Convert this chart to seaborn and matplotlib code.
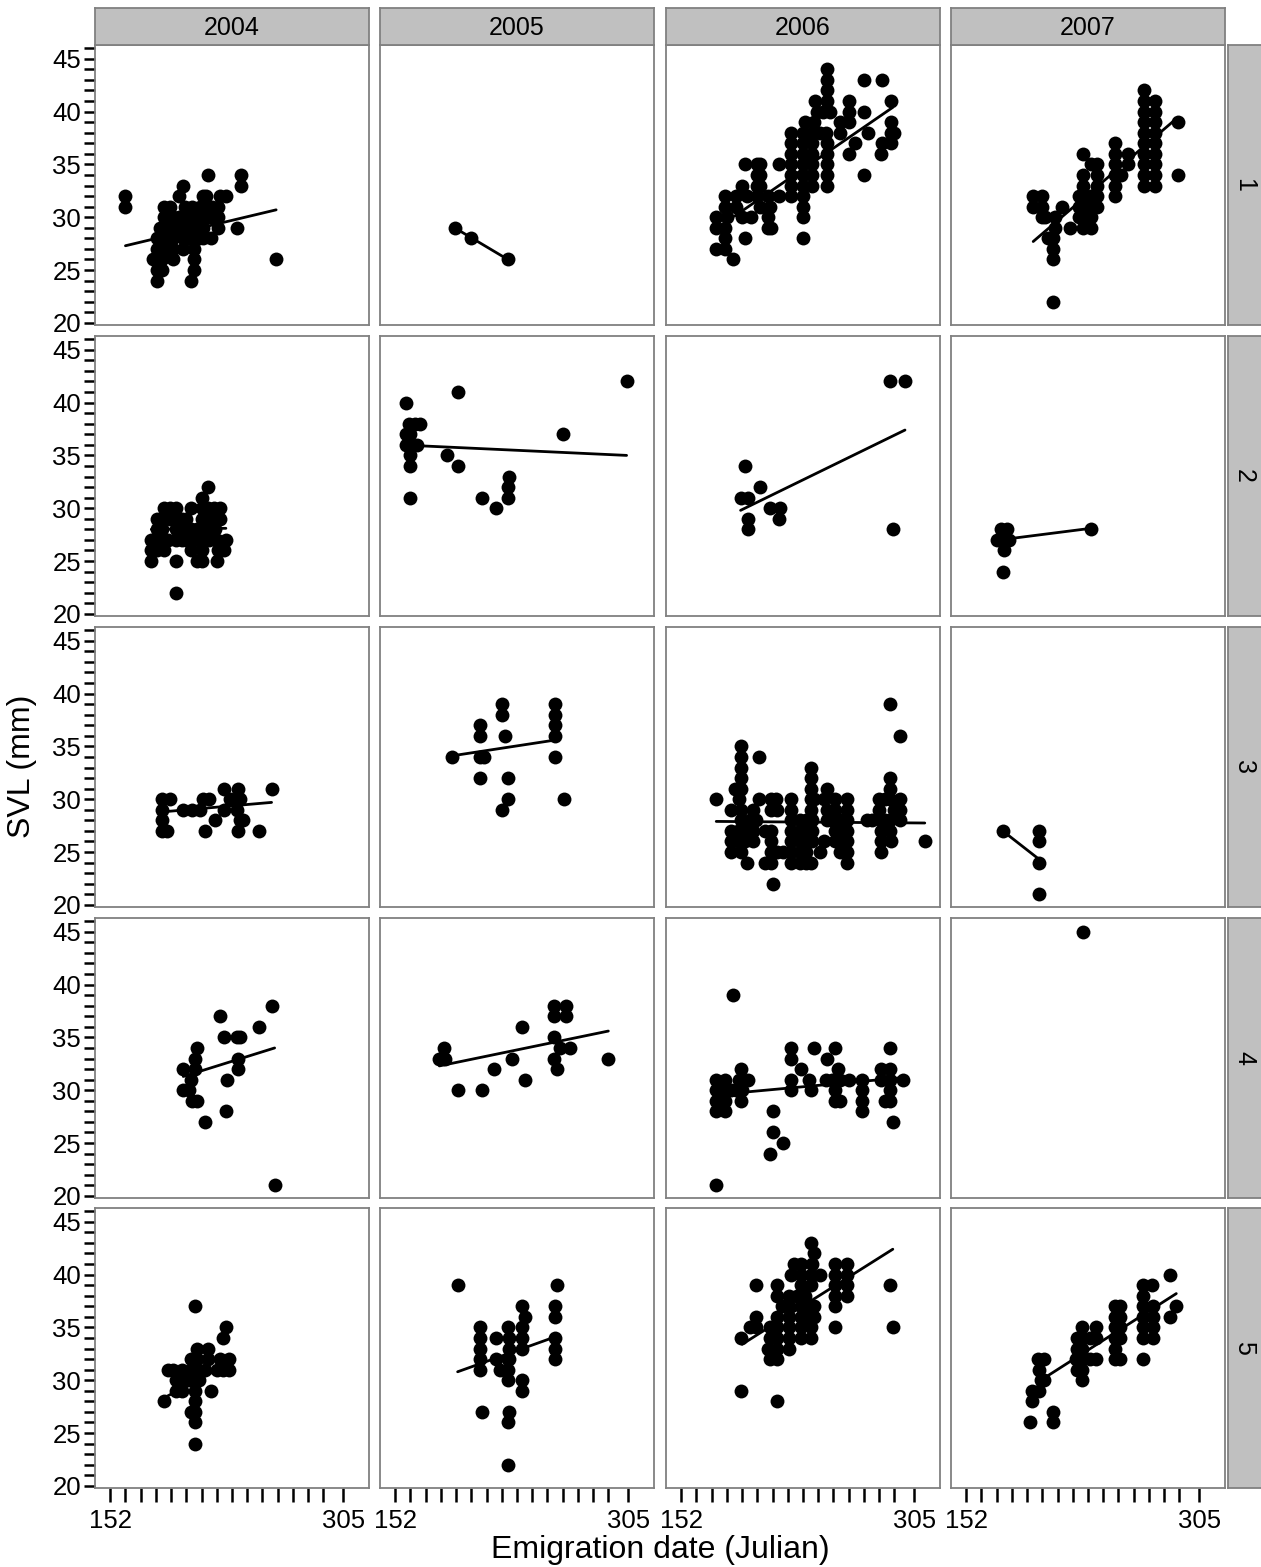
import numpy as np
import pandas as pd
import matplotlib
matplotlib.use("Agg")
import matplotlib.pyplot as plt
import seaborn as sns

sns.set_style("white")
plt.rcParams["font.family"] = ["Liberation Sans", "DejaVu Sans"]
plt.rcParams["text.color"] = "black"
plt.rcParams["xtick.color"] = "black"
plt.rcParams["ytick.color"] = "black"
plt.rcParams["xtick.labelcolor"] = "black"
plt.rcParams["ytick.labelcolor"] = "black"

# ---------------- data: SVL value -> list of emigration dates (Julian) ----------------
years = [2004, 2005, 2006, 2007]
groups = [1, 2, 3, 4, 5]

p2004_1 = {34: [216, 238], 33: [200, 238], 32: [162, 197, 213, 215, 224, 228],
           31: [162, 187, 191, 201, 206, 211, 215, 219, 223],
           30: [187, 190, 193, 197, 200, 203, 206, 210, 213, 216, 219, 223],
           29: [185, 189, 193, 197, 200, 203, 206, 210, 213, 223, 235],
           28: [183, 187, 193, 200, 203, 206, 210, 213, 218],
           27: [183, 187, 190, 193, 200, 207], 26: [180, 186, 193, 207, 261],
           25: [183, 186, 207], 24: [183, 205]}
p2005_1 = {29: [191], 28: [202], 26: [226]}
p2006_1 = {44: [248], 43: [248, 272, 284], 42: [248], 41: [240, 248, 262, 290],
           40: [241, 245, 250, 262, 272], 39: [233, 239, 256, 262, 290],
           38: [224, 232, 238, 243, 247, 256, 275, 290, 292],
           37: [224, 232, 238, 248, 266, 284, 290], 36: [224, 232, 238, 248, 262, 283],
           35: [194, 202, 204, 216, 224, 232, 238, 248], 34: [202, 204, 224, 232, 238, 248, 272],
           33: [192, 202, 204, 224, 232, 238, 248], 32: [181, 188, 195, 202, 209, 216, 224, 232],
           31: [181, 188, 204, 210, 232], 30: [175, 182, 192, 198, 209, 232],
           29: [175, 181, 209, 211], 28: [181, 194, 232], 27: [175, 181], 26: [186]}
p2007_1 = {42: [269], 41: [269, 276], 40: [269, 276], 39: [269, 276, 291], 38: [269, 276],
           37: [250, 269, 276], 36: [229, 250, 258, 269, 276], 35: [234, 238, 250, 258, 269, 276],
           34: [229, 238, 250, 254, 269, 276, 291], 33: [229, 238, 250, 269, 276],
           32: [196, 202, 226, 229, 234, 238, 250], 31: [196, 202, 215, 226, 229, 234, 238],
           30: [202, 204, 210, 226, 229, 234], 29: [210, 220, 229, 234], 28: [206, 209],
           27: [209], 26: [209], 22: [209]}
p2004_2 = {32: [216], 31: [212], 30: [187, 191, 195, 205, 212, 216, 220, 224],
           29: [183, 186, 191, 196, 199, 202, 212, 216, 220, 224],
           28: [183, 186, 195, 202, 205, 209, 212, 216, 221],
           27: [179, 183, 186, 190, 195, 199, 202, 206, 210, 214, 217, 222, 228],
           26: [179, 183, 187, 205, 212, 223, 227], 25: [179, 195, 209, 212, 222], 22: [195]}
p2005_2 = {42: [304], 41: [193], 40: [159], 38: [161, 165, 168], 37: [159, 162, 262],
           36: [159, 162, 166], 35: [162, 186], 34: [162, 193], 33: [227], 32: [226],
           31: [162, 209, 226], 30: [218]}
p2006_2 = {42: [289, 299], 34: [194], 32: [204], 31: [191, 196], 30: [210, 217],
           29: [196, 216], 28: [196, 291]}
p2007_2 = {28: [175, 179, 234], 27: [172, 176, 180], 26: [177], 24: [176]}
p2004_3 = {31: [227, 236, 258], 30: [186, 191, 213, 217, 231, 237],
           29: [186, 200, 206, 211, 227, 235], 28: [186, 221, 237, 239],
           27: [186, 189, 214, 236, 250]}
p2005_3 = {39: [222, 257], 38: [222, 257], 37: [208, 257], 36: [208, 224, 257],
           34: [189, 208, 210, 257], 32: [208, 226], 30: [226, 263], 29: [222]}
p2006_3 = {39: [289], 36: [296], 35: [191], 34: [191, 203], 33: [191, 237],
           32: [191, 237, 289], 31: [187, 191, 237, 248, 289],
           30: [175, 190, 203, 211, 214, 224, 237, 239, 246, 253, 261, 282, 286, 289, 296],
           29: [185, 191, 199, 211, 215, 224, 237, 248, 253, 261, 282, 292, 296],
           28: [191, 197, 201, 224, 230, 234, 238, 248, 251, 256, 261, 274, 277, 283, 286, 289, 296],
           27: [185, 189, 194, 199, 207, 211, 224, 230, 234, 238, 253, 257, 261, 283, 289],
           26: [185, 189, 194, 199, 211, 224, 230, 234, 238, 246, 253, 257, 261, 283, 290, 312],
           25: [185, 191, 211, 215, 219, 224, 230, 234, 243, 256, 261, 283],
           24: [195, 207, 211, 224, 230, 234, 237, 261], 22: [212]}
p2007_3 = {27: [176, 200], 26: [200], 24: [200], 21: [200]}
p2004_4 = {38: [258], 37: [224], 36: [250], 35: [227, 235, 237], 34: [209], 33: [208, 236],
           32: [200, 208, 236], 31: [205, 229], 30: [200, 204], 29: [206, 209], 28: [228],
           27: [214], 21: [260]}
p2005_4 = {38: [256, 264], 37: [256, 264], 36: [235], 35: [256], 34: [184, 260, 267],
           33: [181, 185, 229, 256, 292], 32: [217, 258], 31: [237], 30: [193, 209]}
p2006_4 = {39: [186], 34: [224, 239, 253, 289], 33: [224, 248], 32: [191, 231, 255, 283, 289],
           31: [175, 181, 190, 196, 224, 236, 247, 251, 256, 262, 271, 283, 289, 298],
           30: [175, 181, 185, 188, 192, 224, 237, 253, 271, 289],
           29: [175, 178, 181, 191, 253, 256, 271, 286, 289], 28: [175, 181, 212, 271],
           27: [291], 26: [212], 25: [219], 24: [210], 21: [175]}
p2007_4 = {45: [229]}
p2004_5 = {37: [208], 35: [228], 34: [226], 33: [209, 216], 32: [205, 209, 216, 224, 230],
           31: [190, 193, 199, 205, 209, 214, 222, 226, 230], 30: [195, 199, 203, 206, 210],
           29: [195, 199, 208, 218], 28: [187, 208], 27: [205, 208], 26: [208], 24: [208]}
p2005_5 = {39: [193, 258], 37: [235, 257], 36: [237, 257], 35: [208, 226, 235],
           34: [208, 218, 227, 235, 257], 33: [208, 227, 235, 257],
           32: [208, 218, 226, 227, 257], 31: [208, 221, 226], 30: [226, 235], 29: [235],
           27: [209, 227], 26: [226], 22: [226]}
p2006_5 = {43: [237], 42: [239], 41: [226, 231, 238, 253, 261], 40: [224, 231, 237, 243, 253, 261],
           39: [201, 215, 231, 237, 253, 261, 289], 38: [215, 223, 228, 233, 253, 261],
           37: [218, 223, 231, 237, 239, 253], 36: [201, 215, 223, 231, 233, 239],
           35: [197, 201, 210, 215, 223, 231, 237, 253, 291], 34: [191, 210, 215, 223, 231, 237],
           33: [209, 215, 223], 32: [210, 215], 29: [191], 28: [215]}
p2007_5 = {40: [286], 39: [268, 274], 38: [268], 37: [250, 253, 268, 275, 290],
           36: [250, 253, 268, 275, 286], 35: [228, 237, 250, 253, 268, 275],
           34: [225, 228, 233, 237, 250, 253, 268, 275], 33: [225, 228, 250],
           32: [199, 203, 224, 228, 233, 237, 250, 253, 268], 31: [200, 225, 228],
           30: [201, 203, 228], 29: [195, 200], 28: [195], 27: [209], 26: [194, 209]}

panels = {
    (2004, 1): p2004_1, (2005, 1): p2005_1, (2006, 1): p2006_1, (2007, 1): p2007_1,
    (2004, 2): p2004_2, (2005, 2): p2005_2, (2006, 2): p2006_2, (2007, 2): p2007_2,
    (2004, 3): p2004_3, (2005, 3): p2005_3, (2006, 3): p2006_3, (2007, 3): p2007_3,
    (2004, 4): p2004_4, (2005, 4): p2005_4, (2006, 4): p2006_4, (2007, 4): p2007_4,
    (2004, 5): p2004_5, (2005, 5): p2005_5, (2006, 5): p2006_5, (2007, 5): p2007_5,
}

# fitted regression lines (start/end) per panel
fit_year  = [2004, 2005, 2006, 2007, 2004, 2005, 2006, 2007, 2004, 2005, 2006, 2007,
             2004, 2005, 2006, 2004, 2005, 2006, 2007]
fit_group = [1, 1, 1, 1, 2, 2, 2, 2, 3, 3, 3, 3, 4, 4, 4, 5, 5, 5, 5]
fit_x0 = [162, 191, 187, 196, 179, 162, 191, 174, 186, 189, 175, 176, 200, 181, 177, 187, 193, 192, 201]
fit_x1 = [261, 226, 291, 291, 228, 304, 299, 234, 258, 257, 312, 200, 260, 292, 298, 230, 257, 291, 290]
fit_y0 = [27.3, 29.0, 30.1, 27.7, 28.0, 35.95, 29.8, 27.0, 28.8, 34.1, 27.9, 27.0, 31.3, 32.3, 29.6, 28.3, 30.8, 33.4, 30.0]
fit_y1 = [30.7, 26.0, 40.4, 39.45, 28.1, 35.0, 37.4, 28.1, 29.7, 35.6, 27.75, 24.3, 34.0, 35.6, 31.2, 31.6, 34.1, 42.4, 38.2]

x_major = [152, 305]
x_minor = [162, 172, 182, 192, 202, 212, 222, 232, 242, 252, 262, 272, 282, 292]
y_major = [20, 25, 30, 35, 40, 45]
y_minor = list(range(20, 47))

rows = []
for (yr, g), d in panels.items():
    for svl, days in d.items():
        for day in days:
            rows.append({"year": yr, "group": g, "day": day, "svl": svl})
df = pd.DataFrame(rows)
fits = pd.DataFrame({"year": fit_year, "group": fit_group, "x0": fit_x0, "x1": fit_x1,
                     "y0": fit_y0, "y1": fit_y1})

# ---------------- layout ----------------
W, H = 1261, 1567
fig = plt.figure(figsize=(W / 100, H / 100), dpi=100)
col_left = [95, 380, 666, 951]
row_top = [45, 336, 627, 918, 1208]
pw, ph = 274, 280
edge = "#808080"
strip_fc = "#c0c0c0"
tick_fs = 18.5
strip_fs = 18

def frac(x, y, w, h):
    return [x / W, 1 - (y + h) / H, w / W, h / H]

for ri, g in enumerate(groups):
    for ci, yr in enumerate(years):
        ax = fig.add_axes(frac(col_left[ci], row_top[ri], pw, ph))
        sub = df[(df.year == yr) & (df.group == g)]
        sns.scatterplot(data=sub, x="day", y="svl", ax=ax, color="black", s=100,
                        linewidth=0, legend=False, zorder=3)
        f = fits[(fits.year == yr) & (fits.group == g)]
        for _, r in f.iterrows():
            ax.plot([r.x0, r.x1], [r.y0, r.y1], color="black", lw=2.0, zorder=2)
        ax.set_xlim(142, 322)
        ax.set_ylim(19.8, 46.3)
        ax.set_xlabel("")
        ax.set_ylabel("")
        for sp in ax.spines.values():
            sp.set_color(edge)
            sp.set_linewidth(1.3)
        ax.set_facecolor("white")
        if ri == len(groups) - 1:
            ax.set_xticks(x_major)
            ax.set_xticks(x_minor, minor=True)
            ax.set_xticklabels([str(v) for v in x_major])
            ax.tick_params(axis="x", which="both", direction="out", length=10, width=1.8,
                           color="black", labelcolor="black", labelsize=tick_fs, pad=5,
                           bottom=True)
        else:
            ax.set_xticks([])
            ax.set_xticks([], minor=True)
        if ci == 0:
            ax.set_yticks(y_major)
            ax.set_yticks(y_minor, minor=True)
            ax.set_yticklabels([str(v) for v in y_major])
            ax.tick_params(axis="y", which="both", direction="out", length=8, width=1.8,
                           color="black", labelcolor="black", labelsize=tick_fs, pad=2,
                           left=True)
        else:
            ax.set_yticks([])
            ax.set_yticks([], minor=True)
        ax.grid(False)
        if ci == len(years) - 1:
            sax = fig.add_axes(frac(1228, row_top[ri], 40, ph))
            sax.set_facecolor(strip_fc)
            sax.set_xticks([]); sax.set_yticks([])
            for sp in sax.spines.values():
                sp.set_color(edge); sp.set_linewidth(1.3)
            sax.text(0.4, 0.5, str(g), rotation=-90, ha="center", va="center",
                     fontsize=strip_fs, color="black", transform=sax.transAxes)

for ci, yr in enumerate(years):
    tax = fig.add_axes(frac(col_left[ci], 8, pw, 37))
    tax.set_facecolor(strip_fc)
    tax.set_xticks([]); tax.set_yticks([])
    for sp in tax.spines.values():
        sp.set_color(edge); sp.set_linewidth(1.3)
    tax.text(0.5, 0.47, str(yr), ha="center", va="center", fontsize=strip_fs,
             color="black", transform=tax.transAxes)

fig.text(22 / W, 1 - 766 / H, "SVL (mm)", rotation=90, ha="center", va="center",
         fontsize=23, color="black")
fig.text(660 / W, 1 - 1550 / H, "Emigration date (Julian)", ha="center", va="center",
         fontsize=23, color="black")

fig.savefig("out.png", dpi=100, facecolor="white")
